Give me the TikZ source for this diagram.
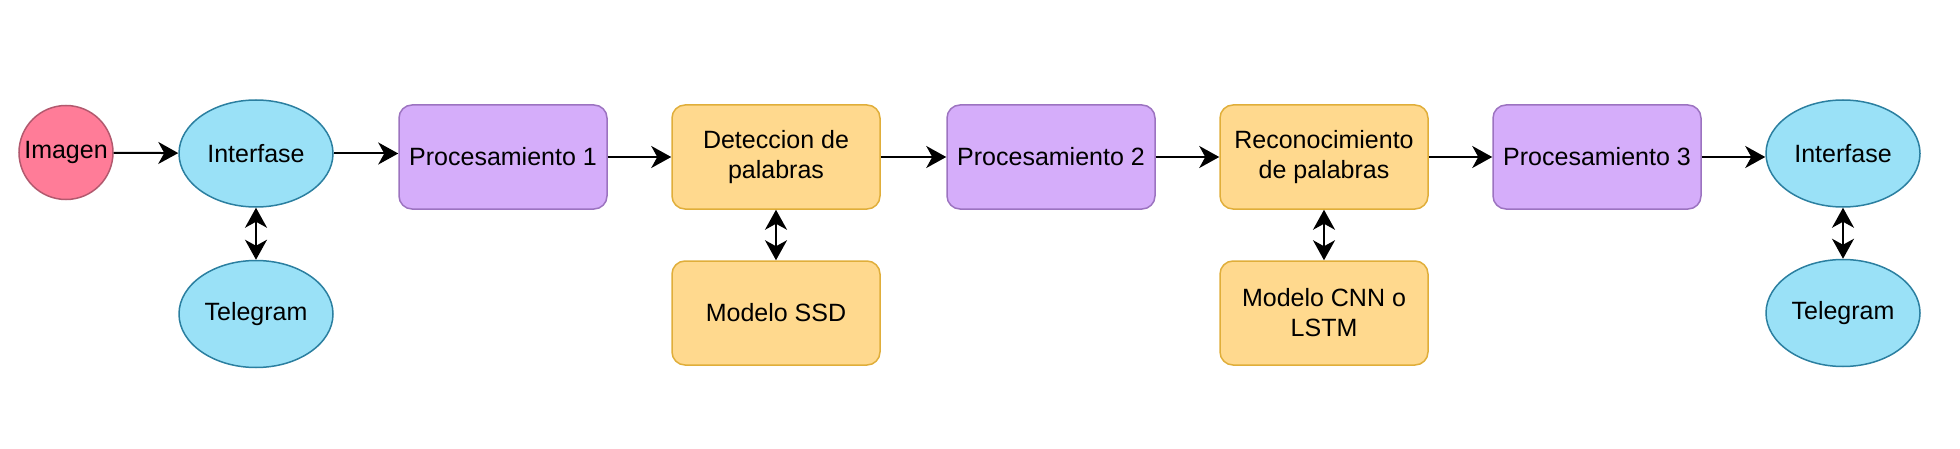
\documentclass[tikz,border=0pt]{standalone}
\usepackage{fontspec}
\setmainfont{Liberation Sans}
\usetikzlibrary{shapes.geometric,arrows.meta}
\definecolor{pinkfill}{HTML}{FF7C98}
\definecolor{pinkdraw}{HTML}{B2596E}
\definecolor{cyanfill}{HTML}{9AE1F7}
\definecolor{cyandraw}{HTML}{2B7FA0}
\definecolor{purplefill}{HTML}{D5ADFA}
\definecolor{purpledraw}{HTML}{9C73C0}
\definecolor{yellowfill}{HTML}{FFD98E}
\definecolor{yellowdraw}{HTML}{E0AE3A}
\tikzset{
  base/.style={line width=0.75pt, inner sep=0pt, align=center,
    font=\fontsize{12.5}{15}\selectfont},
  startnode/.style={base, circle, minimum size=47pt, fill=pinkfill, draw=pinkdraw},
  ellnode/.style={base, ellipse, minimum width=77pt, minimum height=53.5pt, fill=cyanfill, draw=cyandraw},
  procbox/.style={base, rectangle, rounded corners=6.5pt, minimum width=104pt, minimum height=52pt, fill=purplefill, draw=purpledraw},
  modbox/.style={base, rectangle, rounded corners=6.5pt, minimum width=104pt, minimum height=52pt, fill=yellowfill, draw=yellowdraw},
  tip/.tip={Stealth[length=10pt,width=11pt,inset=3pt]},
  conn/.style={line width=1pt, -tip},
  biconn/.style={line width=1pt, tip-tip}
}
\begin{document}
\begin{tikzpicture}[x=0.5pt,y=-0.5pt]
\useasboundingbox (0,0) rectangle (1960,449);
\node[startnode] (img) at (66,152.5) {Imagen};
\node[ellnode] (if1) at (256,153.5) {Interfase};
\node[ellnode] (tg1) at (256,314) {Telegram};
\node[procbox] (p1) at (503,157) {Procesamiento 1};
\node[modbox] (det) at (776,157) {Deteccion de\\palabras};
\node[modbox] (ssd) at (776,313) {Modelo SSD};
\node[procbox] (p2) at (1051,157) {Procesamiento 2};
\node[modbox] (rec) at (1324,157) {Reconocimiento\\de palabras};
\node[modbox] (cnn) at (1324,313) {Modelo CNN o\\LSTM};
\node[procbox] (p3) at (1597,157) {Procesamiento 3};
\node[ellnode] (if2) at (1843,153.5) {Interfase};
\node[ellnode] (tg2) at (1843,313) {Telegram};

\draw[conn] (img) -- (if1);
\draw[conn] (if1.east) -- (if1.east -| p1.west);
\draw[conn] (p1) -- (det);
\draw[conn] (det) -- (p2);
\draw[conn] (p2) -- (rec);
\draw[conn] (rec) -- (p3);
\draw[conn] (p3.east) -- (p3.east -| if2.west);
\draw[biconn] (if1) -- (tg1);
\draw[biconn] (det) -- (ssd);
\draw[biconn] (rec) -- (cnn);
\draw[biconn] (if2) -- (tg2);
\end{tikzpicture}
\end{document}
